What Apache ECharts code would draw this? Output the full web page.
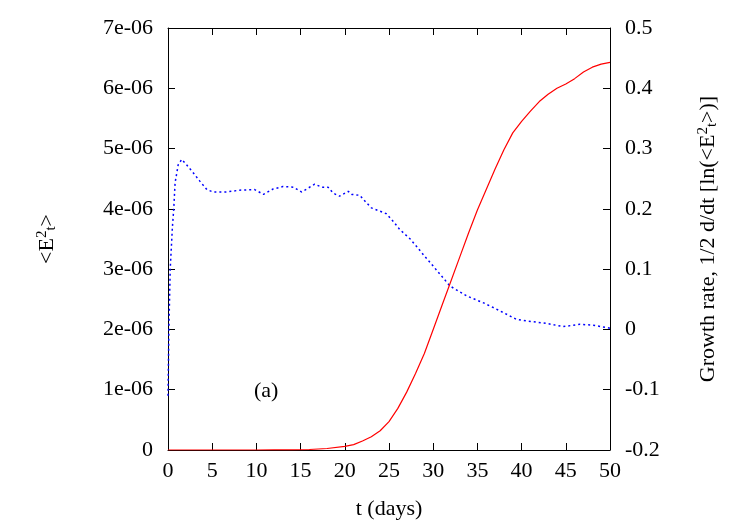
<!DOCTYPE html>
<html>
<head>
<meta charset="utf-8">
<script src="https://cdn.jsdelivr.net/npm/echarts@6/dist/echarts.min.js"></script>
<style>
  html, body { margin: 0; padding: 0; background: #fff; }
  #chart { width: 750px; height: 525px; }
</style>
</head>
<body>
<div id="chart"></div>
<script>
// energy <E_t^2> (left axis)
var energyDays = [0, 5, 10, 12, 14, 16, 18, 20, 21, 22, 23, 24, 25, 26, 27, 28, 29, 30, 31, 32, 33, 34, 35,
  36, 37, 38, 39, 40, 41, 42, 43, 44, 45, 46, 47, 48, 49, 50]
var energyVals = [0, 0, 0, 0.001, 0.003, 0.008, 0.025, 0.06, 0.09, 0.15, 0.22, 0.32, 0.47, 0.69, 0.96, 1.27,
  1.6, 2.0, 2.4, 2.8, 3.2, 3.6, 3.98, 4.32, 4.66, 4.98, 5.26, 5.45, 5.62, 5.78, 5.9, 6.0, 6.07, 6.16, 6.27,
  6.35, 6.4, 6.43] // in units of 1e-06

// growth rate (right axis)
var rateDays = [0, 0.1, 0.25, 0.5, 0.65, 0.8, 1.15, 1.55, 2.1, 2.85, 3.6, 4.4, 5.1, 6.6, 8.1, 9.8, 10.8, 11.9,
  13.0, 14.2, 15.1, 15.7, 16.6, 17.4, 18.1, 18.7, 19.4, 20.4, 20.8, 21.7, 22.3, 23.0, 24.0, 24.7, 25.5, 26.2,
  27.4, 28.1, 29.0, 30.0, 31.9, 33.8, 35.7, 37.6, 39.4, 40.6, 42.8, 44.7, 46.6, 48.1, 50]
var rateVals = [-0.11, 0.0, 0.1, 0.17, 0.2, 0.243, 0.273, 0.282, 0.273, 0.26, 0.246, 0.232, 0.228, 0.228, 0.231,
  0.232, 0.224, 0.233, 0.237, 0.236, 0.228, 0.233, 0.241, 0.236, 0.236, 0.226, 0.221, 0.229, 0.224, 0.2225,
  0.2125, 0.2017, 0.196, 0.192, 0.179, 0.166, 0.15, 0.138, 0.122, 0.105, 0.072, 0.0555, 0.044, 0.0305, 0.0168,
  0.014, 0.010, 0.0047, 0.0085, 0.007, 0.002]

var xTicks = { min: 0, max: 50, interval: 5 }
var font = 'Liberation Serif'
var fs = 22

function pairs(xs, ys, scale) {
  var out = []
  for (var i = 0; i < xs.length; i++) {
    out.push([xs[i], ys[i] * scale])
  }
  return out
}

var richName = {
  sup: { fontSize: 15, fontFamily: font, color: '#000', verticalAlign: 'top', padding: [0, 0, 9, 0] },
  sub: { fontSize: 15, fontFamily: font, color: '#000', verticalAlign: 'bottom', padding: [9, 0, 0, 0] }
}

var chart = echarts.init(document.getElementById('chart'))
chart.setOption({
  animation: false,
  backgroundColor: '#fff',
  textStyle: { fontFamily: font, color: '#000' },
  grid: { left: 168, right: 140, top: 28, bottom: 74 },
  xAxis: [{
    type: 'value',
    min: xTicks.min,
    max: xTicks.max,
    interval: xTicks.interval,
    name: 't (days)',
    nameLocation: 'middle',
    nameGap: 48,
    nameTextStyle: { fontSize: fs, fontFamily: font, color: '#000' },
    axisLine: { onZero: false, lineStyle: { color: '#000', width: 1 } },
    axisTick: { inside: true, length: 7, lineStyle: { color: '#000' } },
    axisLabel: { fontSize: fs, fontFamily: font, color: '#000', margin: 10 },
    splitLine: { show: false }
  }, {
    type: 'value',
    position: 'top',
    min: xTicks.min,
    max: xTicks.max,
    interval: xTicks.interval,
    axisLine: { onZero: false, lineStyle: { color: '#000', width: 1 } },
    axisTick: { inside: true, length: 7, lineStyle: { color: '#000' } },
    axisLabel: { show: false },
    splitLine: { show: false }
  }],
  yAxis: [{
    type: 'value',
    min: 0,
    max: 7e-6,
    interval: 1e-6,
    name: '<E{sup|2}{sub|t}>',
    nameLocation: 'middle',
    nameRotate: 90,
    nameGap: 109,
    nameTextStyle: { fontSize: fs, fontFamily: font, color: '#000', rich: richName },
    axisLine: { show: true, onZero: false, lineStyle: { color: '#000', width: 1 } },
    axisTick: { show: true, inside: true, length: 7, lineStyle: { color: '#000' } },
    axisLabel: {
      fontSize: fs, fontFamily: font, color: '#000', margin: 15,
      formatter: function (v) {
        var n = Math.round(v * 1e6)
        return n === 0 ? '0' : n + 'e-06'
      }
    },
    splitLine: { show: false }
  }, {
    type: 'value',
    position: 'right',
    min: -0.2,
    max: 0.5,
    interval: 0.1,
    name: 'Growth rate, 1/2 d/dt [ln(<E{sup|2}{sub|t}>)]',
    nameLocation: 'middle',
    nameRotate: 90,
    nameGap: 86,
    nameTextStyle: { fontSize: fs, fontFamily: font, color: '#000', rich: richName },
    axisLine: { show: true, onZero: false, lineStyle: { color: '#000', width: 1 } },
    axisTick: { show: true, inside: true, length: 7, lineStyle: { color: '#000' } },
    axisLabel: {
      fontSize: fs, fontFamily: font, color: '#000', margin: 15,
      formatter: function (v) {
        return String(Math.round(v * 10) / 10)
      }
    },
    splitLine: { show: false }
  }],
  graphic: [{
    type: 'text',
    left: 254,
    top: 380,
    style: { text: '(a)', font: '22px "Liberation Serif"', fill: '#000' }
  }],
  series: [{
    name: 'energy',
    type: 'line',
    xAxisIndex: 0,
    yAxisIndex: 0,
    data: pairs(energyDays, energyVals, 1e-6),
    showSymbol: false,
    smooth: false,
    lineStyle: { color: '#ff0000', width: 1.2 },
    z: 3
  }, {
    name: 'rate',
    type: 'line',
    xAxisIndex: 0,
    yAxisIndex: 1,
    data: pairs(rateDays, rateVals, 1),
    showSymbol: false,
    lineStyle: { color: '#0000ff', width: 1.5, type: [2, 3] },
    z: 2
  }]
})
</script>
</body>
</html>
